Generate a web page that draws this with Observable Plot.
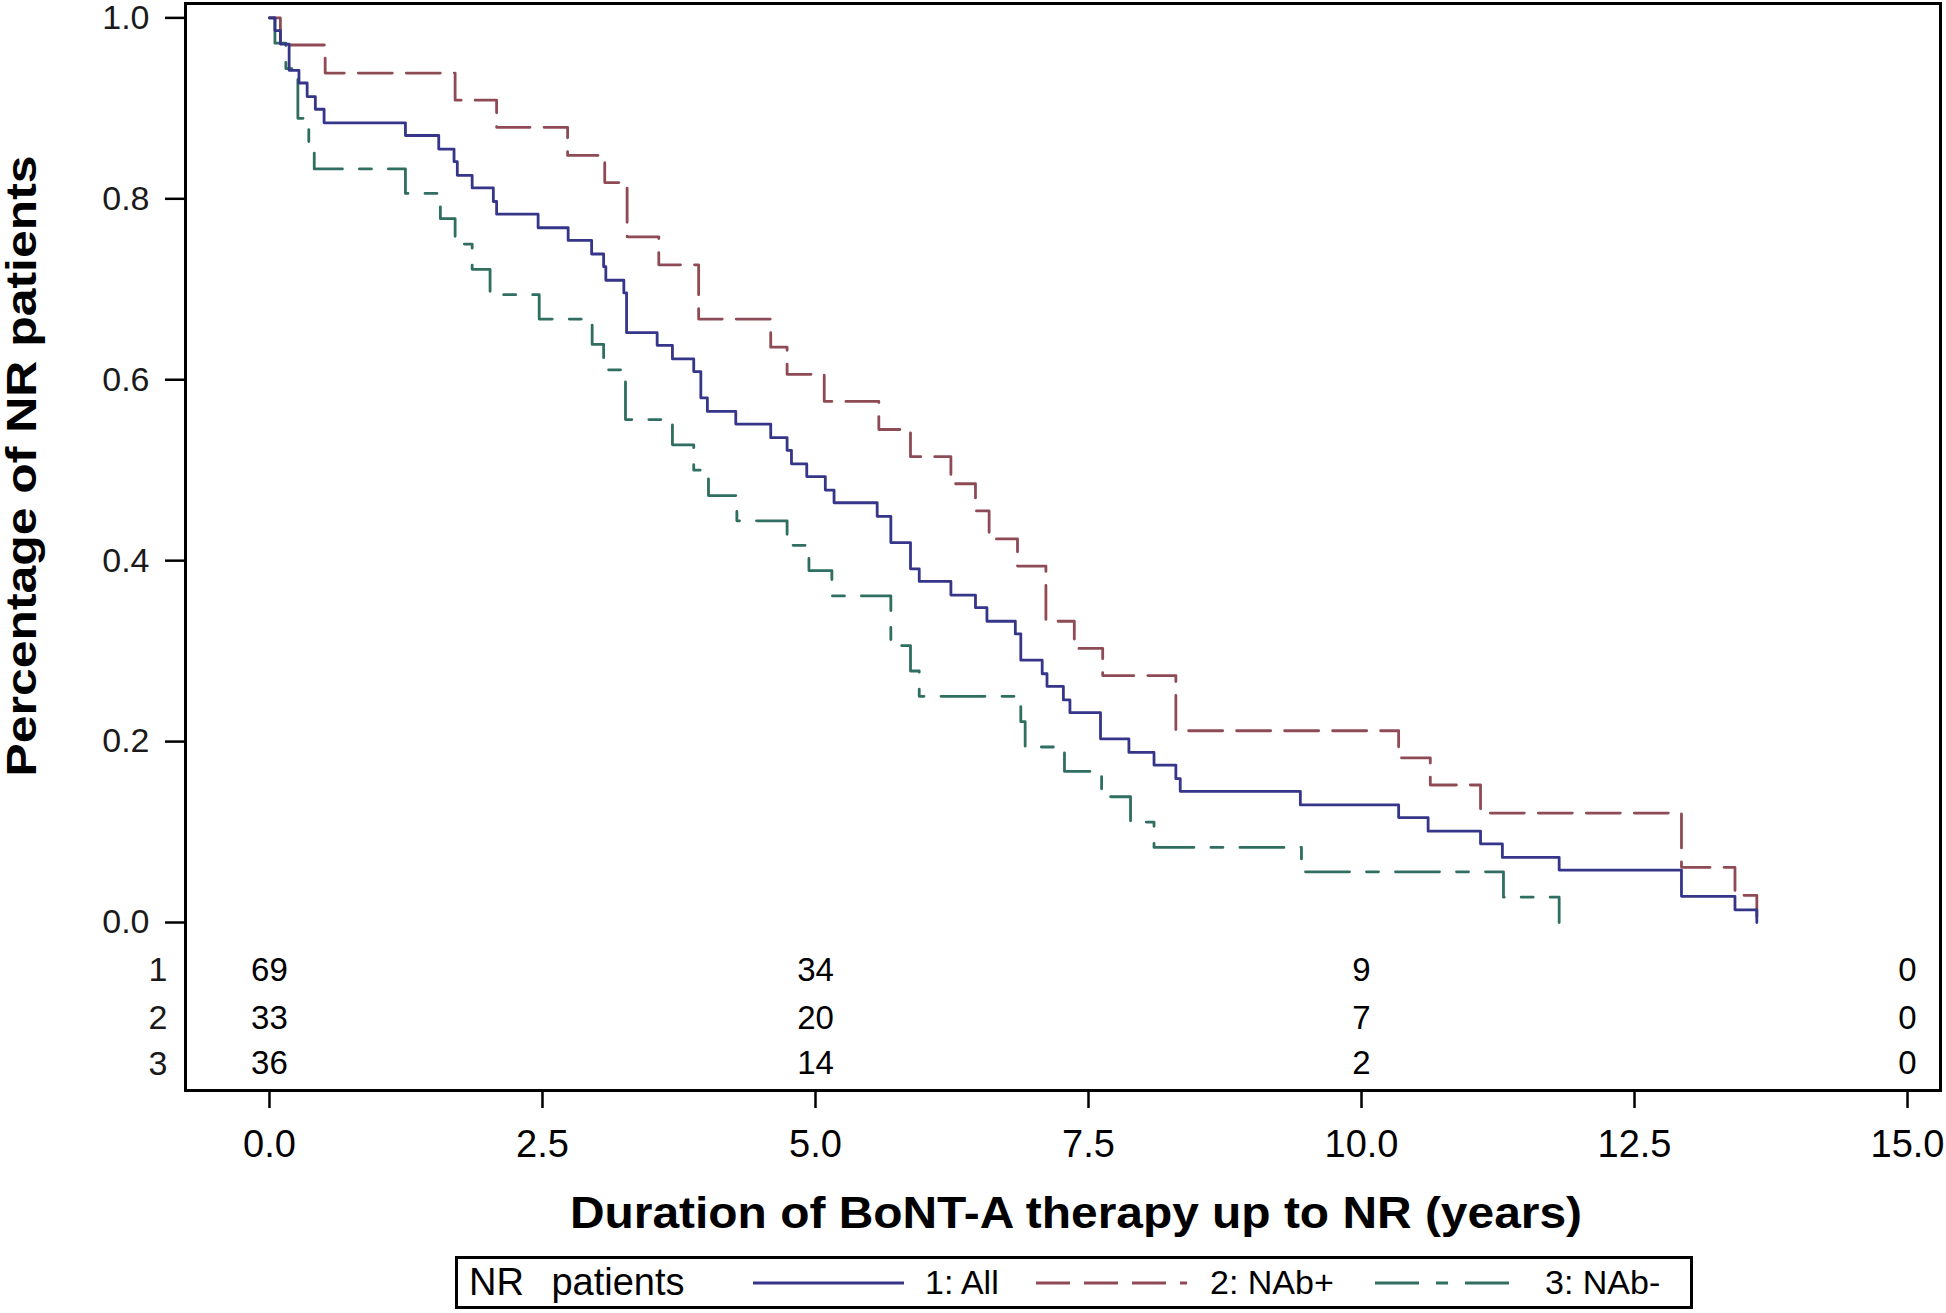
<!DOCTYPE html>
<html><head><meta charset="utf-8">
<script src="https://cdn.jsdelivr.net/npm/d3@7"></script>
<script src="https://cdn.jsdelivr.net/npm/@observablehq/plot@0.6"></script>
<style>
html,body{margin:0;padding:0;background:#fff;}
body{width:1946px;height:1313px;position:relative;overflow:hidden;font-family:"Liberation Sans",Arial,sans-serif;}
#chart{position:absolute;left:0;top:0;}
#legend{position:absolute;left:455px;top:1256px;width:1232px;height:47px;border:3px solid #000;background:#fff;}
.li{position:absolute;top:0;height:47px;line-height:47px;font-size:34px;color:#000;white-space:pre;}
.ls{position:absolute;top:0;height:47px;}
</style></head><body>
<div id="chart"></div><div id="legend"></div>
<script>
// ---- data ----
const allTimes = [0, 0.05, 0.10, 0.18, 0.27, 0.345, 0.42, 0.50, 1.245, 1.55, 1.69, 1.72, 1.856, 2.05, 2.08, 2.46, 2.735, 2.95, 3.06, 3.08, 3.245, 3.27, 3.55, 3.69, 3.885, 3.95, 4.01, 4.27, 4.59, 4.74, 4.78, 4.92, 5.09, 5.17, 5.565, 5.69, 5.87, 5.95, 6.24, 6.465, 6.57, 6.83, 6.88, 7.076, 7.12, 7.27, 7.33, 7.61, 7.87, 8.10, 8.30, 8.34, 9.44, 10.34, 10.61, 11.09, 11.29, 11.81, 12.93, 13.42, 13.62];
const allSurv  = [1, 0.986, 0.971, 0.942, 0.928, 0.913, 0.899, 0.884, 0.870, 0.855, 0.841, 0.826, 0.812, 0.797, 0.783, 0.768, 0.754, 0.739, 0.725, 0.710, 0.696, 0.652, 0.638, 0.623, 0.609, 0.580, 0.565, 0.551, 0.536, 0.522, 0.507, 0.493, 0.478, 0.464, 0.449, 0.420, 0.391, 0.377, 0.362, 0.348, 0.333, 0.319, 0.290, 0.275, 0.261, 0.246, 0.232, 0.203, 0.188, 0.174, 0.159, 0.145, 0.130, 0.116, 0.101, 0.087, 0.072, 0.058, 0.029, 0.014, 0];

const posTimes = [0, 0.10, 0.51, 1.70, 2.08, 2.73, 3.07, 3.275, 3.565, 3.93, 4.59, 4.74, 5.08, 5.58, 5.87, 6.24, 6.465, 6.59, 6.85, 7.11, 7.37, 7.63, 8.30, 10.34, 10.63, 11.09, 12.93, 13.42, 13.62];
const posSurv  = [1, 0.970, 0.939, 0.909, 0.879, 0.848, 0.818, 0.758, 0.727, 0.667, 0.636, 0.606, 0.576, 0.545, 0.515, 0.485, 0.455, 0.424, 0.394, 0.333, 0.303, 0.273, 0.212, 0.182, 0.152, 0.121, 0.061, 0.030, 0];

const negTimes = [0, 0.05, 0.15, 0.26, 0.36, 0.41, 1.245, 1.565, 1.70, 1.856, 2.02, 2.47, 2.955, 3.06, 3.26, 3.69, 3.885, 4.02, 4.28, 4.74, 4.94, 5.15, 5.69, 5.87, 5.95, 6.88, 6.92, 7.28, 7.62, 7.885, 8.10, 9.45, 11.30, 11.81];
const negSurv  = [1, 0.972, 0.944, 0.889, 0.861, 0.833, 0.806, 0.778, 0.750, 0.722, 0.694, 0.667, 0.639, 0.611, 0.556, 0.528, 0.500, 0.472, 0.444, 0.417, 0.389, 0.361, 0.306, 0.278, 0.250, 0.222, 0.194, 0.167, 0.139, 0.111, 0.083, 0.056, 0.028, 0];

const seriesNames = ["1: All", "2: NAb+", "3: NAb-"];
const rowLabels = ["1", "2", "3"];
const riskTimes = [0, 5, 10, 15];
const atRiskAll = [69, 34, 9, 0];
const atRiskPos = [33, 20, 7, 0];
const atRiskNeg = [36, 14, 2, 0];
const xTicks = [0, 2.5, 5, 7.5, 10, 12.5, 15];
const yTicks = [0, 0.2, 0.4, 0.6, 0.8, 1.0];
const xLabel = "Duration of BoNT-A therapy up to NR (years)";
const yLabel = "Percentage of NR patients";
const legendTitle = "NR patients";

// ---- styles / layout ----
const colors = ["#35358a", "#8e4b55", "#2f6e60"];
const dashes = [null, "34,14", "44,17,12,17"];
const riskRowY = [-0.053, -0.1056, -0.1563]; // row positions under the curves
const font = "Liberation Sans, Arial, sans-serif";

const series = [
  {times: allTimes, surv: allSurv, atRisk: atRiskAll},
  {times: posTimes, surv: posSurv, atRisk: atRiskPos},
  {times: negTimes, surv: negSurv, atRisk: atRiskNeg}
].map((s, i) => ({...s, name: seriesNames[i], color: colors[i], dash: dashes[i]}));

const riskTable = [];
series.forEach((s, gi) => riskTimes.forEach((t, ti) => riskTable.push({t, row: riskRowY[gi], n: s.atRisk[ti]})));
const rowLabelMap = new Map(riskRowY.map((v, i) => [v, rowLabels[i]]));

const lineMarks = [2, 1, 0].map(i => {
  const s = series[i];
  const data = s.times.map((t, k) => ({t, s: s.surv[k]}));
  const opts = {x: "t", y: "s", curve: "step-after", stroke: s.color, strokeWidth: 2.8};
  if (s.dash) opts.strokeDasharray = s.dash;
  return Plot.line(data, opts);
});

const chart = Plot.plot({
  width: 1946,
  height: 1245,
  marginTop: 3,
  marginRight: 6,
  marginBottom: 155,
  marginLeft: 185,
  style: {fontFamily: font, background: "#fff", overflow: "visible", color: "#000"},
  x: {domain: [-0.769, 15.302]},
  y: {domain: [-0.1857, 1.0159]},
  marks: [
    Plot.axisY({ticks: yTicks, tickFormat: d3.format(".1f"), tickSize: 20, tickPadding: 16, fontSize: 34, strokeWidth: 2.5, label: null, fill: "#1a1a1a"}),
    Plot.axisY({ticks: riskRowY, tickFormat: d => rowLabelMap.get(d), tickSize: 0, tickPadding: 18, fontSize: 34, label: null, fill: "#1a1a1a"}),
    Plot.axisX({ticks: xTicks, tickFormat: d3.format(".1f"), tickSize: 18, tickPadding: 22, fontSize: 38, strokeWidth: 2.5, label: null}),
    ...lineMarks,
    Plot.text(riskTable, {x: "t", y: "row", text: d => String(d.n), fontSize: 33, fill: "#000"}),
    Plot.text([xLabel], {frameAnchor: "bottom", text: d => d, dx: 13, dy: 123, lineAnchor: "middle", textAnchor: "middle", fontSize: 44, fontWeight: "bold", fill: "#000"}),
    Plot.text([yLabel], {frameAnchor: "left", text: d => d, rotate: -90, dx: -163, dy: -81, lineAnchor: "middle", textAnchor: "middle", fontSize: 42, fontWeight: "bold", fill: "#000"}),
    Plot.frame({stroke: "#000", strokeWidth: 3})
  ]
});
document.getElementById("chart").appendChild(chart);

// stretch the axis titles to the lengths they occupy in the reference
d3.select(chart).selectAll("text").filter(function () { return this.textContent === xLabel; })
  .attr("textLength", 1012).attr("lengthAdjust", "spacingAndGlyphs");
d3.select(chart).selectAll("text").filter(function () { return this.textContent === yLabel; })
  .attr("textLength", 621).attr("lengthAdjust", "spacingAndGlyphs");

// ---- legend ----
const legend = d3.select("#legend");
legend.append("div").attr("class", "li").style("left", "11px").style("font-size", "38px").style("word-spacing", "17px").text(legendTitle);
const sampleLeft = [295, 578, 917];
const labelLeft = [467, 752, 1087];
series.forEach((s, i) => {
  const svg = legend.append("svg").attr("class", "ls").attr("width", 151).attr("height", 47).style("left", sampleLeft[i] + "px");
  const ln = svg.append("line").attr("x1", 0).attr("x2", 151).attr("y1", 24).attr("y2", 24)
    .attr("stroke", s.color).attr("stroke-width", 3);
  if (s.dash) ln.attr("stroke-dasharray", s.dash);
  legend.append("div").attr("class", "li").style("left", labelLeft[i] + "px").text(s.name);
});
</script>
</body></html>
